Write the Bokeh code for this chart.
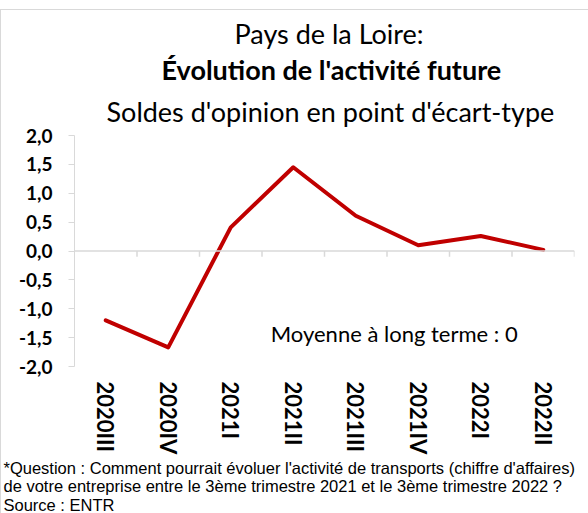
from bokeh.plotting import figure
from bokeh.models import FactorRange, Range1d, Span, Label, Title, FixedTicker, ColumnDataSource
from bokeh.transform import dodge
from bokeh.embed import file_html
from bokeh.resources import INLINE

quarters = ["2020III", "2020IV", "2021I", "2021II", "2021III", "2021IV", "2022I", "2022II"]
soldes = [-1.20, -1.67, 0.41, 1.45, 0.61, 0.10, 0.26, 0.02]
y_ticks = [-2.0, -1.5, -1.0, -0.5, 0.0, 0.5, 1.0, 1.5, 2.0]
y_tick_labels = ["-2,0", "-1,5", "-1,0", "-0,5", "0,0", "0,5", "1,0", "1,5", "2,0"]

title_1 = "Pays de la Loire:"
title_2 = "Évolution de l'activité future"
title_3 = "Soldes d'opinion en point d'écart-type"
note_lines = [
    "*Question : Comment pourrait évoluer l'activité de transports (chiffre d'affaires)",
    "de votre entreprise entre le 3ème trimestre 2021 et le 3ème trimestre 2022 ?",
    "Source : ENTR",
]
moyenne_text = "Moyenne à long terme : 0"

FONT = "Lato"
GRAY = "#d9d9d9"

p = figure(
    width=588, height=513,
    x_range=FactorRange(*quarters, range_padding=0, factor_padding=0),
    y_range=Range1d(-2, 2),
    output_backend="svg", toolbar_location=None,
    min_border_left=74, min_border_right=14, min_border_top=135, min_border_bottom=145,
)
p.border_fill_color = None
p.background_fill_color = None
p.styles = {
    "background-color": "white",
    "background-image": "linear-gradient(#d9d9d9, #d9d9d9), linear-gradient(#d9d9d9, #d9d9d9)",
    "background-position": "0px 9px, 0px 9px",
    "background-size": "100% 1px, 1px 100%",
    "background-repeat": "no-repeat, no-repeat",
}
p.outline_line_color = None
p.xgrid.grid_line_color = None
p.ygrid.grid_line_color = None

# y axis
p.yaxis.ticker = FixedTicker(ticks=y_ticks)
p.yaxis.major_label_overrides = {t: l for t, l in zip(y_ticks, y_tick_labels)}
p.yaxis.axis_line_color = GRAY
p.yaxis.major_tick_line_color = GRAY
p.yaxis.major_tick_out = 6
p.yaxis.major_tick_in = 0
p.yaxis.minor_tick_line_color = None
p.yaxis.major_label_text_font = FONT
p.yaxis.major_label_text_font_style = "bold"
p.yaxis.major_label_text_font_size = "19px"
p.yaxis.major_label_text_color = "black"
p.yaxis.major_label_standoff = 16

# x axis
p.xaxis.axis_line_color = None
p.xaxis.major_tick_line_color = None
p.xaxis.major_tick_out = 0
p.xaxis.major_tick_in = 0
p.xaxis.major_label_orientation = "vertical"
p.xaxis.major_label_text_font = FONT
p.xaxis.major_label_text_font_style = "bold"
p.xaxis.major_label_text_font_size = "22px"
p.xaxis.major_label_text_color = "black"
p.xaxis.major_label_standoff = 15

# zero line and category tick marks
p.add_layout(Span(location=0, dimension="width", line_color=GRAY, line_width=1.5))
src = ColumnDataSource(dict(x=quarters, y0=[0.0] * len(quarters), y1=[-0.1] * len(quarters)))
p.segment(x0=dodge("x", 0.5, range=p.x_range), y0="y0",
          x1=dodge("x", 0.5, range=p.x_range), y1="y1",
          source=src, line_color=GRAY, line_width=1.5)

# data line
p.line(x=quarters, y=soldes, line_color="#C00000", line_width=4, line_cap="round", line_join="round")

p.add_layout(Label(x=3.14, y=-1.42, text=moyenne_text, text_font=FONT, text_font_size="22px",
                   text_color="black", text_baseline="middle"))

# footnote (first added is closest to the plot)
for txt, so in zip(note_lines, [-2, -1, -1]):
    p.add_layout(Title(text=txt, align="left", offset=-71, text_font="Liberation Sans",
                       text_font_size="16.5px", text_font_style="normal", text_color="black",
                       text_line_height=1.0, standoff=so), "below")

# titles (first added is closest to the plot)
for txt, style, so, off in [(title_3, "normal", 15, 32), (title_2, "bold", 0, 87), (title_1, "normal", 1, 160)]:
    p.add_layout(Title(text=txt, align="left", offset=off, text_font=FONT,
                       text_font_size="27px", text_font_style=style, text_color="black",
                       standoff=so), "above")

open("out.html", "w").write(file_html(p, INLINE))
